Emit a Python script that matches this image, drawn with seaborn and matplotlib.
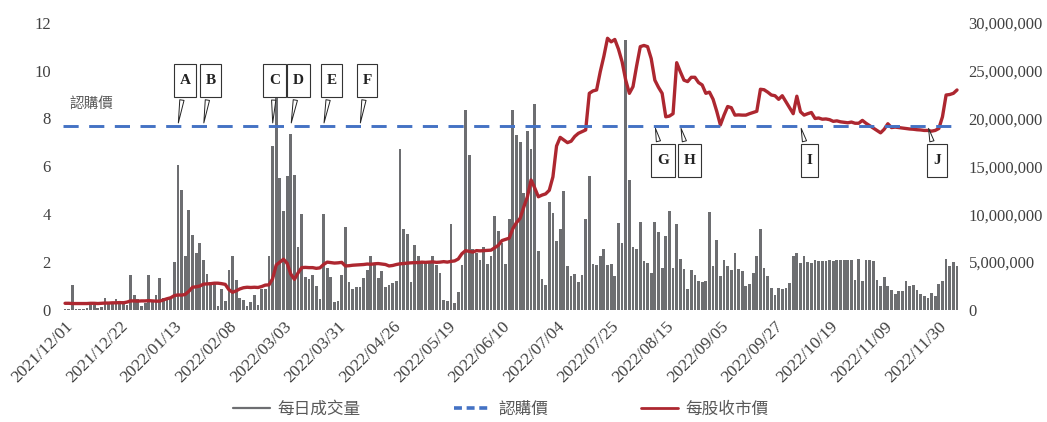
import numpy as np
import pandas as pd
import matplotlib
matplotlib.use("Agg")
import matplotlib.pyplot as plt
import seaborn as sns
from matplotlib.lines import Line2D
from matplotlib.path import Path
from matplotlib.ticker import FuncFormatter, MultipleLocator

# ---------------- data ----------------
tick_dates = ['2021/12/01', '2021/12/22', '2022/01/13', '2022/02/08', '2022/03/03',
              '2022/03/31', '2022/04/26', '2022/05/19', '2022/06/10', '2022/07/04',
              '2022/07/25', '2022/08/15', '2022/09/05', '2022/09/27', '2022/10/19',
              '2022/11/09', '2022/11/30']
tick_every = 15  # a date label every 15 trading days

# daily volume, millions of shares (one value per trading day)
volume_millions = [
    0.1, 0.1, 2.6, 0.1, 0.1, 0.1, 0.2, 0.5, 0.5, 0.2,
    0.3, 1.3, 0.7, 0.6, 1.2, 0.9, 0.9, 0.5, 3.7, 1.6,
    1.1, 0.4, 0.7, 3.7, 1.0, 1.6, 3.3, 1.3, 1.3, 1.4,
    5.0, 15.1, 12.5, 5.6, 10.4, 7.8, 5.9, 7.0, 5.2, 3.8,
    2.9, 2.8, 0.4, 2.2, 0.9, 4.2, 5.6, 3.1, 1.3, 1.0,
    0.4, 0.8, 1.6, 0.5, 2.2, 2.2, 5.6, 17.1, 22.1, 13.8,
    10.3, 14.0, 18.4, 14.1, 6.6, 10.0, 3.4, 3.2, 3.7, 2.5,
    1.2, 10.0, 4.4, 3.4, 0.8, 0.9, 3.7, 8.7, 2.9, 2.2,
    2.4, 2.4, 3.3, 4.2, 5.6, 4.9, 3.3, 4.1, 2.4, 2.6,
    2.8, 3.0, 16.8, 8.5, 7.9, 2.9, 6.8, 5.6, 5.1, 5.1,
    4.9, 5.6, 4.7, 3.9, 1.0, 0.9, 9.0, 0.7, 1.9, 4.7,
    20.9, 16.2, 6.4, 6.0, 5.2, 6.6, 4.8, 5.6, 9.8, 8.3,
    7.0, 4.8, 9.5, 20.9, 18.3, 17.5, 12.2, 18.7, 16.8, 21.5,
    6.2, 3.2, 2.6, 11.3, 10.1, 7.2, 8.5, 12.4, 4.6, 3.5,
    3.8, 2.9, 3.7, 9.5, 14.0, 4.8, 4.7, 5.6, 6.4, 4.7,
    4.8, 3.5, 9.1, 7.0, 28.2, 13.6, 6.6, 6.4, 9.2, 5.1,
    4.9, 3.9, 9.2, 8.1, 4.4, 7.7, 10.3, 4.4, 9.0, 5.3,
    4.3, 2.2, 4.2, 3.7, 3.0, 2.9, 3.0, 10.2, 4.6, 7.3,
    3.5, 5.2, 4.6, 4.2, 6.0, 4.3, 4.1, 2.5, 2.7, 3.9,
    5.6, 8.5, 4.4, 3.6, 2.3, 1.6, 2.3, 2.2, 2.3, 2.8,
    5.6, 6.0, 4.9, 5.6, 5.0, 4.9, 5.2, 5.1, 5.1, 5.1,
    5.2, 5.1, 5.2, 5.2, 5.2, 5.2, 5.2, 3.1, 5.3, 3.0,
    5.2, 5.2, 5.1, 3.1, 2.5, 3.4, 2.5, 2.1, 1.7, 2.0,
    2.0, 3.0, 2.5, 2.6, 2.1, 1.7, 1.5, 1.3, 1.8, 1.5,
    2.7, 3.0, 5.3, 4.6, 5.0, 4.6,
]

# closing price per share
close_price = [
    0.28, 0.28, 0.27, 0.27, 0.27, 0.27, 0.27, 0.28, 0.28, 0.27,
    0.28, 0.29, 0.29, 0.30, 0.30, 0.31, 0.30, 0.33, 0.38, 0.38,
    0.37, 0.38, 0.38, 0.39, 0.38, 0.37, 0.37, 0.42, 0.47, 0.51,
    0.60, 0.63, 0.62, 0.65, 0.78, 0.95, 0.97, 1.00, 1.08, 1.09,
    1.10, 1.12, 1.12, 1.10, 1.07, 0.85, 0.74, 0.80, 0.88, 0.93,
    0.95, 0.94, 0.95, 0.94, 0.98, 1.04, 1.05, 1.30, 1.88, 2.00,
    2.12, 1.95, 1.50, 1.28, 1.55, 1.77, 1.78, 1.77, 1.77, 1.74,
    1.76, 1.90, 2.00, 1.98, 1.96, 1.97, 1.99, 1.84, 1.85, 1.87,
    1.88, 1.89, 1.90, 1.92, 1.91, 1.93, 1.94, 1.92, 1.90, 1.84,
    1.86, 1.90, 1.93, 1.94, 1.96, 1.97, 1.98, 1.98, 2.00, 1.99,
    2.00, 2.01, 1.99, 2.00, 2.02, 2.00, 2.03, 2.05, 2.13, 2.35,
    2.48, 2.45, 2.42, 2.48, 2.47, 2.48, 2.49, 2.50, 2.60, 2.70,
    2.90, 2.95, 3.00, 3.40, 3.65, 3.83, 4.30, 4.73, 5.43, 5.10,
    4.73, 4.80, 4.85, 5.00, 5.56, 6.85, 7.21, 7.10, 6.99, 7.05,
    7.25, 7.38, 7.45, 7.52, 9.05, 9.15, 9.19, 9.95, 10.60, 11.35,
    11.20, 11.30, 10.90, 10.37, 9.60, 9.05, 9.33, 10.20, 11.00, 11.05,
    11.00, 10.50, 9.60, 9.30, 9.05, 8.07, 8.10, 8.20, 10.33, 9.95,
    9.60, 9.54, 9.72, 9.72, 9.50, 9.40, 9.05, 9.10, 8.80, 8.30,
    7.73, 8.14, 8.50, 8.45, 8.14, 8.15, 8.14, 8.14, 8.20, 8.25,
    8.30, 9.22, 9.20, 9.10, 8.98, 8.95, 8.80, 8.95, 8.70, 8.45,
    8.20, 8.93, 8.28, 8.14, 8.20, 8.25, 8.00, 8.02, 7.97, 7.98,
    7.95, 7.88, 7.90, 7.86, 7.84, 7.82, 7.85, 7.80, 7.80, 7.92,
    7.80, 7.70, 7.60, 7.50, 7.40, 7.55, 7.78, 7.62, 7.64, 7.62,
    7.60, 7.58, 7.56, 7.55, 7.53, 7.52, 7.50, 7.50, 7.47, 7.50,
    7.58, 8.07, 8.98, 9.00, 9.05, 9.19,
]

subscription_price = 7.7

callout_letters = ['A', 'B', 'C', 'D', 'E', 'F', 'G', 'H', 'I', 'J']
callout_days = [31, 38, 57, 62, 71, 81, 162, 169, 202, 237]   # trading-day index

legend_labels = ['每日成交量', '認購價', '每股收市價']

# ---------------- styling ----------------
BAR_C = '#6d6e71'
RED_C = '#ad2730'
BLUE_C = '#4472c4'
TXT_C = '#404040'
SERIF = ['Liberation Serif', 'DejaVu Serif']
CJK = ['Noto Sans CJK TC', 'DejaVu Sans']

sns.set_style('white')
plt.rcParams['font.family'] = SERIF


def tall_box(x0, y0, width, height, mutation_size):
    """Rectangle with more padding above/below than at the sides."""
    px = 0.38 * mutation_size
    py = 0.64 * mutation_size
    xa, ya = x0 - px, y0 - py
    xb, yb = x0 + width + px, y0 + height + py
    return Path([(xa, ya), (xb, ya), (xb, yb), (xa, yb), (xa, ya)],
                [Path.MOVETO, Path.LINETO, Path.LINETO, Path.LINETO, Path.CLOSEPOLY])


n = len(volume_millions)
days = np.arange(n)
df = pd.DataFrame({'day': days,
                   'volume': np.array(volume_millions) * 1e6,
                   'price': close_price})

fig = plt.figure(figsize=(10.47, 4.22), dpi=100)
ax_p = fig.add_axes([0.0604, 0.2654, 0.8554, 0.6808])
ax_v = ax_p.twinx()
ax_p.set_zorder(ax_v.get_zorder() + 1)
ax_p.patch.set_visible(False)

sns.barplot(data=df, x='day', y='volume', color=BAR_C, saturation=1,
            width=0.76, errorbar=None, ax=ax_v, linewidth=0)
sns.lineplot(data=df, x='day', y='price', color=RED_C, lw=2.4, ax=ax_p)
ax_p.axhline(subscription_price, color=BLUE_C, lw=2.1, dashes=(5.2, 3.6))

ax_p.set_xlim(-0.5, n - 0.5)
ax_p.set_ylim(0, 12)
ax_v.set_ylim(0, 30e6)
ax_p.yaxis.set_major_locator(MultipleLocator(2))
ax_v.yaxis.set_major_locator(MultipleLocator(5e6))
ax_v.yaxis.set_major_formatter(FuncFormatter(lambda v, p: f'{int(v):,}'))

tick_pos = [i * tick_every for i in range(len(tick_dates))]
ax_p.set_xticks(tick_pos)
ax_p.set_xticklabels(tick_dates, rotation=45, ha='right', rotation_mode='anchor')

for ax in (ax_p, ax_v):
    for s in ax.spines.values():
        s.set_visible(False)
    ax.set_xlabel('')
    ax.set_ylabel('')
    ax.tick_params(length=0, colors=TXT_C, labelsize=12)
ax_p.tick_params(axis='y', pad=9)
ax_v.tick_params(axis='y', pad=7)
ax_p.tick_params(axis='x', pad=6, labelsize=12.5)

# label of the dashed line
ax_p.text(1.2, 8.6, '認購價', family=CJK, fontsize=10.5, color='#595959',
          ha='left', va='center')

# callouts
offsets = {'A': (7, 45), 'B': (7, 45), 'C': (2, 45), 'D': (8, 45), 'E': (8, 45),
           'F': (7, 45), 'G': (8, -35), 'H': (9, -35), 'I': (9, -35), 'J': (9, -35)}
for letter, d in zip(callout_letters, callout_days):
    ax_p.annotate(letter, xy=(d, subscription_price), xytext=offsets[letter],
                  textcoords='offset pixels', ha='center', va='center',
                  fontsize=11, fontweight='bold', family=SERIF, color='#222222',
                  bbox=dict(boxstyle=tall_box, fc='white', ec='#333333', lw=0.8),
                  arrowprops=dict(arrowstyle='wedge,tail_width=0.28,shrink_factor=0.5',
                                  fc='white', ec='#222222', lw=0.7),
                  zorder=5)

handles = [Line2D([0], [0], color=BAR_C, lw=1.6),
           Line2D([0], [0], color=BLUE_C, lw=2.6, dashes=(2.2, 1.3)),
           Line2D([0], [0], color=RED_C, lw=2.0)]
fig.legend(handles, legend_labels, loc='center', bbox_to_anchor=(0.4783, 0.03),
           ncol=3, frameon=False, handlelength=2.2, handletextpad=0.45,
           columnspacing=5.6, prop={'family': CJK, 'size': 12}, labelcolor='#595959')

fig.savefig('out.png', dpi=100)
